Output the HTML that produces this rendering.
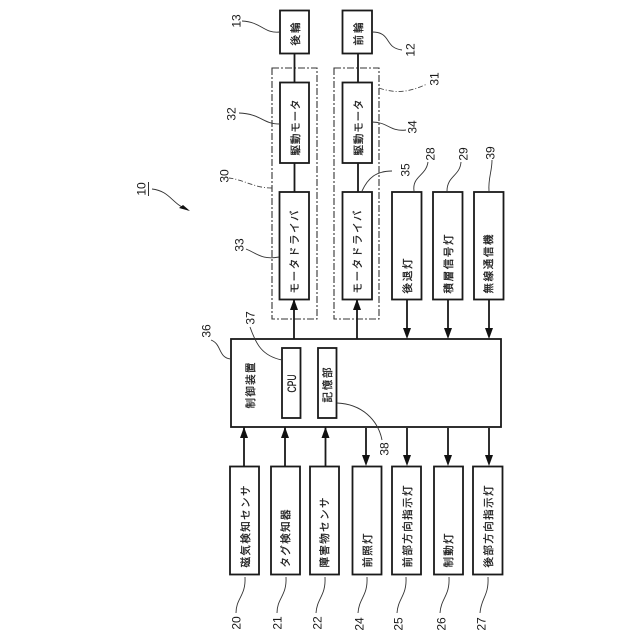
<!DOCTYPE html>
<html>
<head>
<meta charset="utf-8">
<style>
html,body{margin:0;padding:0;background:#fff}
svg{display:block}
.b rect{fill:#fff;stroke:#1a1a1a;stroke-width:1.800}
text{font-family:"Liberation Sans","Noto Sans CJK JP",sans-serif;fill:#1a1a1a}
.j{font-size:10.500px}
.j text{stroke:#1a1a1a;stroke-width:.25}
.n{font-size:12px;text-anchor:middle}
.l{fill:none;stroke:#333;stroke-width:.9}
.d{fill:none;stroke:#444;stroke-width:.9;stroke-dasharray:5 2 1 2}
.c{stroke:#1a1a1a;stroke-width:1.800;fill:none}
.a{fill:#111}
</style>
</head>
<body>
<svg width="640" height="640" viewBox="0 0 640 640" xmlns="http://www.w3.org/2000/svg">
<defs>
<polygon id="up" class="a" points="0,0 4,11 -4,11"/>
<polygon id="dn" class="a" points="0,0 4,-11 -4,-11"/>
</defs>

<!-- dash-dot enclosures -->
<rect x="272" y="68" width="45" height="251" fill="none" stroke="#333" stroke-width="1.100" stroke-dasharray="7 2 2 2"/>
<rect x="334" y="68" width="45" height="251" fill="none" stroke="#333" stroke-width="1.100" stroke-dasharray="7 2 2 2"/>

<!-- connectors -->
<path class="c" d="M294.500 53V82M294.500 163V192M358 53V82M358 163V192"/>
<path class="c" d="M294 300V339M357 300V339M407 299V330M448 299V330M489 299V330"/>
<path class="c" d="M244 427V466M285 427V466M325.500 427V466M366 428V456M407 428V456M448 428V456M489 428V456"/>
<use href="#up" x="294" y="299"/>
<use href="#up" x="357" y="299"/>
<use href="#dn" x="407" y="339"/>
<use href="#dn" x="448" y="339"/>
<use href="#dn" x="489" y="339"/>
<use href="#up" x="244" y="427"/>
<use href="#up" x="285" y="427"/>
<use href="#up" x="325.500" y="427"/>
<use href="#dn" x="366" y="466"/>
<use href="#dn" x="407" y="466"/>
<use href="#dn" x="448" y="466"/>
<use href="#dn" x="489" y="466"/>

<!-- boxes -->
<g class="b">
<rect x="280" y="10.500" width="29" height="43"/>
<rect x="342.500" y="10.500" width="29.500" height="43"/>
<rect x="280" y="82.500" width="29" height="80.500"/>
<rect x="342.500" y="82.500" width="29.500" height="80.500"/>
<rect x="279.500" y="192" width="29.500" height="107.500"/>
<rect x="342.500" y="192" width="29.500" height="107.500"/>
<rect x="392" y="192" width="29.500" height="107.500"/>
<rect x="433" y="192" width="29.500" height="107.500"/>
<rect x="474" y="192" width="29.500" height="107.500"/>
<rect x="231" y="339" width="270" height="88"/>
<rect x="282" y="348" width="18.500" height="70"/>
<rect x="318" y="348" width="18.500" height="70"/>
<rect x="230" y="466.500" width="29" height="108"/>
<rect x="271" y="466.500" width="29" height="108"/>
<rect x="310" y="466.500" width="29" height="108"/>
<rect x="352.500" y="466.500" width="29" height="108"/>
<rect x="392" y="466.500" width="29" height="108"/>
<rect x="434" y="466.500" width="29" height="108"/>
<rect x="473" y="466.500" width="29.500" height="108"/>
</g>

<!-- box labels -->
<g class="j">
<text transform="translate(299,45.500) rotate(-90)" textLength="23">後輪</text>
<text transform="translate(362,45.500) rotate(-90)" textLength="23">前輪</text>
<text transform="translate(299,155.500) rotate(-90)" textLength="56">駆動モータ</text>
<text transform="translate(362,155.500) rotate(-90)" textLength="56">駆動モータ</text>
<text transform="translate(298,293.500) rotate(-90)" textLength="83">モータドライバ</text>
<text transform="translate(361,293.500) rotate(-90)" textLength="83">モータドライバ</text>
<text transform="translate(411,293.500) rotate(-90)" textLength="35">後退灯</text>
<text transform="translate(452,293.500) rotate(-90)" textLength="59">積層信号灯</text>
<text transform="translate(492,293.500) rotate(-90)" textLength="59">無線通信機</text>
<text transform="translate(254,408.500) rotate(-90)" textLength="46">制御装置</text>
<text transform="translate(296,392.500) rotate(-90)" textLength="18" lengthAdjust="spacingAndGlyphs" style="font-size:11.500px">CPU</text>
<text transform="translate(331,402.500) rotate(-90)" textLength="35">記憶部</text>
<text transform="translate(249,567.500) rotate(-90)" textLength="82">磁気検知センサ</text>
<text transform="translate(289,567.500) rotate(-90)" textLength="58">タグ検知器</text>
<text transform="translate(328,567.500) rotate(-90)" textLength="70">障害物センサ</text>
<text transform="translate(371,567.500) rotate(-90)" textLength="34">前照灯</text>
<text transform="translate(411,567.500) rotate(-90)" textLength="82">前部方向指示灯</text>
<text transform="translate(452,567.500) rotate(-90)" textLength="34">制動灯</text>
<text transform="translate(492,567.500) rotate(-90)" textLength="82">後部方向指示灯</text>
</g>

<!-- leader lines -->
<path class="l" d="M280 32C264 34 262 22 242 21"/>
<path class="l" d="M372 32C392 32 384 48 402 50"/>
<path class="l" d="M280 124C262 124 262 114 239 113"/>
<path class="l" d="M372 122C388 122 390 132 406 130"/>
<path class="l" d="M362 191C368 178 376 171 392 171"/>
<path class="l" d="M414 191C412 176 426 176 428 162"/>
<path class="l" d="M447 191C447 176 460 176 461 162"/>
<path class="l" d="M489 191C488 178 492 172 492 160"/>
<path class="l" d="M279 257C262 260 258 254 246 249"/>
<path class="l" d="M231 359C218 358 222 344 211 340"/>
<path class="l" d="M282 360C262 356 256 344 250 327"/>
<path class="l" d="M337 403C362 404 378 420 382 440"/>
<path class="l" d="M245 577C246 596 236 598 236 613"/>
<path class="l" d="M286 577C287 596 277 598 277 613"/>
<path class="l" d="M325 577C326 596 317 598 316 613"/>
<path class="l" d="M367 577C368 596 359 598 358 613"/>
<path class="l" d="M406 577C407 596 398 598 397 613"/>
<path class="l" d="M449 577C450 596 441 598 440 613"/>
<path class="l" d="M488 577C489 596 481 598 480 613"/>
<path class="d" d="M379 88C396 94 410 92 427 84"/>
<path class="d" d="M272 188C254 188 245 180 229 178"/>

<!-- reference numerals -->
<g class="n">
<text transform="translate(240.500,21) rotate(-90)">13</text>
<text transform="translate(414.500,50) rotate(-90)">12</text>
<text transform="translate(235.500,114) rotate(-90)">32</text>
<text transform="translate(416.500,127) rotate(-90)">34</text>
<text transform="translate(438.500,79) rotate(-90)">31</text>
<text transform="translate(228.500,176) rotate(-90)">30</text>
<text transform="translate(409.500,170) rotate(-90)">35</text>
<text transform="translate(434.500,154) rotate(-90)">28</text>
<text transform="translate(467.500,154) rotate(-90)">29</text>
<text transform="translate(494.500,153) rotate(-90)">39</text>
<text transform="translate(243.500,245) rotate(-90)">33</text>
<text transform="translate(210.500,331) rotate(-90)">36</text>
<text transform="translate(254.500,318) rotate(-90)">37</text>
<text transform="translate(388.500,449) rotate(-90)">38</text>
<text transform="translate(240.500,623) rotate(-90)">20</text>
<text transform="translate(281.500,623) rotate(-90)">21</text>
<text transform="translate(321.500,623) rotate(-90)">22</text>
<text transform="translate(363.500,624) rotate(-90)">24</text>
<text transform="translate(402.500,624) rotate(-90)">25</text>
<text transform="translate(445.500,624) rotate(-90)">26</text>
<text transform="translate(485.500,624) rotate(-90)">27</text>
<text transform="translate(145.500,189) rotate(-90)">10</text>
</g>
<path d="M148.500 182V196" stroke="#333" stroke-width="1" fill="none"/>
<path class="l" d="M152 189C170 191 172 204 188 210"/>
<polygon class="a" points="190,211 179,208 183,205"/>
</svg>
</body>
</html>
